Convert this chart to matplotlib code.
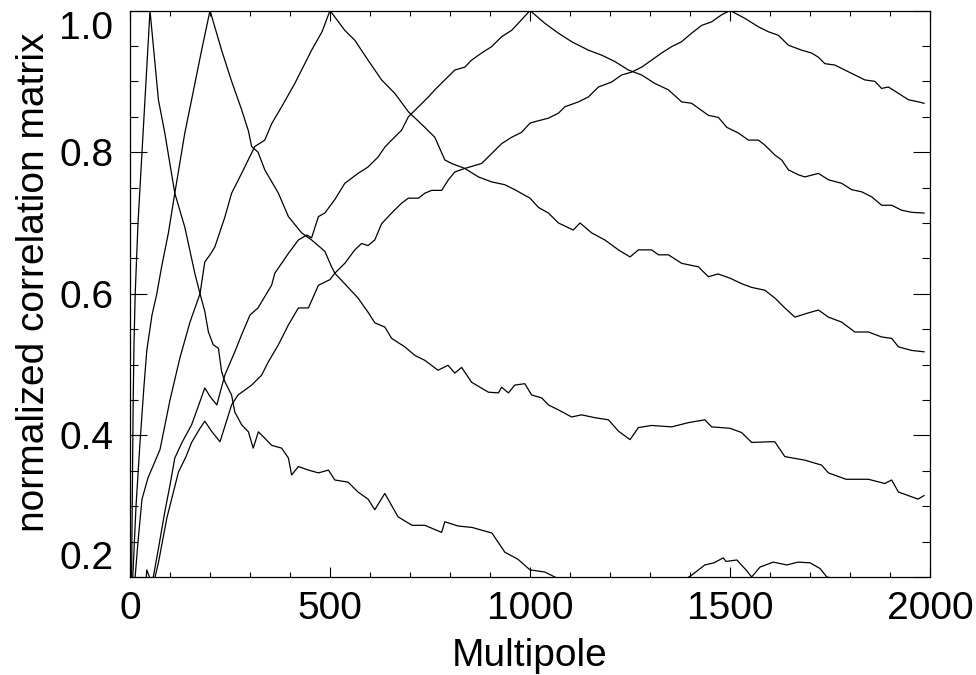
import matplotlib
matplotlib.use("Agg")
import matplotlib.pyplot as plt
from matplotlib.ticker import MultipleLocator

plt.rcParams['font.family'] = ['Liberation Sans', 'DejaVu Sans']

# curves: correlation with multipole 50, 200, 500, 1000, 1500
l_50 = [2, 4, 6, 8, 10, 13, 20, 30, 40, 50, 71, 87, 112, 137, 162, 175, 187, 196, 208, 221,
        229, 237, 254, 262, 279, 296, 308, 321, 337, 354, 379, 396, 404, 421, 446, 471, 496,
        512, 545, 570, 595, 612, 637, 670, 705, 737, 779, 787, 820, 855, 905, 937, 970, 1000,
        1037, 1062, 1100, 1150, 1200, 1250, 1300, 1337, 1370, 1405, 1437, 1460, 1483, 1490,
        1517, 1540, 1554, 1575, 1608, 1642, 1670, 1700, 1725, 1742, 1770, 1800, 1850, 1900,
        1950, 1985]
c_50 = [0.05, 0.2, 0.33, 0.45, 0.53, 0.6, 0.7, 0.8, 0.9, 1.0, 0.874, 0.827, 0.742, 0.694,
        0.629, 0.60, 0.575, 0.546, 0.528, 0.523, 0.49, 0.476, 0.457, 0.433, 0.415, 0.405,
        0.382, 0.405, 0.396, 0.386, 0.382, 0.368, 0.344, 0.356, 0.351, 0.347, 0.351, 0.337,
        0.334, 0.32, 0.31, 0.295, 0.318, 0.285, 0.273, 0.273, 0.263, 0.278, 0.272, 0.27,
        0.262, 0.235, 0.225, 0.21, 0.207, 0.20, 0.19, 0.185, 0.182, 0.188, 0.192, 0.199,
        0.19, 0.203, 0.217, 0.22, 0.227, 0.222, 0.224, 0.21, 0.200, 0.214, 0.221, 0.217,
        0.221, 0.22, 0.212, 0.200, 0.197, 0.19, 0.185, 0.18, 0.182, 0.178]

l_200 = [2, 7, 15, 25, 35, 42, 55, 67, 79, 96, 112, 137, 154, 179, 200, 229, 254, 279, 296,
         304, 320, 337, 371, 396, 429, 454, 487, 504, 512, 537, 570, 595, 612, 637, 654, 687,
         712, 737, 770, 795, 812, 829, 854, 896, 921, 929, 946, 962, 987, 1004, 1029, 1046,
         1071, 1104, 1129, 1162, 1196, 1221, 1250, 1271, 1304, 1354, 1396, 1437, 1454, 1500,
         1529, 1554, 1600, 1612, 1637, 1687, 1729, 1746, 1790, 1846, 1887, 1904, 1921, 1970,
         1985]
c_200 = [0.0, 0.2, 0.3, 0.39, 0.47, 0.52, 0.57, 0.60, 0.638, 0.686, 0.742, 0.827, 0.874,
         0.944, 1.0, 0.944, 0.90, 0.86, 0.83, 0.808, 0.80, 0.775, 0.742, 0.709, 0.686, 0.676,
         0.66, 0.638, 0.629, 0.614, 0.594, 0.574, 0.559, 0.553, 0.537, 0.525, 0.513, 0.506,
         0.492, 0.499, 0.488, 0.496, 0.475, 0.461, 0.46, 0.468, 0.46, 0.471, 0.473, 0.457,
         0.453, 0.443, 0.436, 0.426, 0.429, 0.425, 0.422, 0.406, 0.394, 0.411, 0.414, 0.412,
         0.418, 0.422, 0.412, 0.41, 0.404, 0.39, 0.391, 0.391, 0.37, 0.365, 0.358, 0.347,
         0.338, 0.338, 0.332, 0.337, 0.32, 0.31, 0.315]

l_500 = [2, 10, 20, 30, 45, 60, 75, 100, 125, 150, 175, 187, 200, 212, 237, 254, 279, 312,
         337, 354, 379, 412, 454, 480, 500, 537, 562, 595, 629, 662, 696, 737, 762, 787, 804,
         837, 871, 904, 937, 962, 1000, 1021, 1046, 1071, 1108, 1125, 1154, 1187, 1221, 1250,
         1271, 1304, 1321, 1346, 1379, 1421, 1446, 1470, 1500, 1530, 1554, 1587, 1612, 1637,
         1662, 1696, 1721, 1746, 1779, 1812, 1846, 1879, 1904, 1921, 1954, 1985]
c_500 = [0.0, 0.18, 0.25, 0.31, 0.34, 0.36, 0.38, 0.45, 0.51, 0.56, 0.60, 0.645, 0.655,
         0.666, 0.708, 0.742, 0.77, 0.808, 0.817, 0.84, 0.864, 0.897, 0.944, 0.97, 1.0, 0.972,
         0.958, 0.93, 0.902, 0.883, 0.857, 0.835, 0.821, 0.789, 0.784, 0.777, 0.765, 0.758,
         0.754, 0.747, 0.735, 0.722, 0.714, 0.70, 0.69, 0.70, 0.686, 0.676, 0.662, 0.652,
         0.662, 0.662, 0.655, 0.655, 0.643, 0.638, 0.624, 0.628, 0.622, 0.614, 0.609, 0.605,
         0.594, 0.58, 0.567, 0.573, 0.577, 0.567, 0.56, 0.546, 0.546, 0.539, 0.537, 0.525,
         0.52, 0.518]

l_1000 = [10, 30, 42, 55, 71, 87, 100, 112, 130, 154, 170, 187, 200, 217, 237, 262, 279, 300,
          320, 354, 362, 396, 421, 442, 454, 471, 487, 512, 537, 570, 595, 620, 637, 654, 679,
          696, 721, 746, 762, 787, 812, 837, 854, 879, 904, 929, 954, 979, 1000, 1037, 1071,
          1104, 1146, 1179, 1212, 1246, 1279, 1312, 1346, 1379, 1404, 1446, 1471, 1492, 1521,
          1546, 1571, 1587, 1612, 1629, 1646, 1671, 1687, 1721, 1746, 1779, 1804, 1829, 1854,
          1879, 1904, 1929, 1954, 1985]
c_1000 = [0.0, 0.12, 0.21, 0.19, 0.24, 0.292, 0.33, 0.368, 0.39, 0.415, 0.44, 0.467, 0.455,
          0.443, 0.485, 0.518, 0.542, 0.57, 0.58, 0.612, 0.629, 0.657, 0.676, 0.683, 0.679,
          0.709, 0.714, 0.733, 0.756, 0.77, 0.779, 0.793, 0.807, 0.817, 0.831, 0.85, 0.864,
          0.878, 0.888, 0.902, 0.916, 0.92, 0.93, 0.94, 0.949, 0.963, 0.972, 0.987, 1.0,
          0.982, 0.968, 0.956, 0.944, 0.937, 0.928, 0.916, 0.909, 0.897, 0.888, 0.871, 0.869,
          0.852, 0.849, 0.835, 0.827, 0.817, 0.817, 0.81, 0.796, 0.789, 0.775, 0.768, 0.765,
          0.77, 0.761, 0.756, 0.747, 0.744, 0.737, 0.725, 0.725, 0.718, 0.715, 0.714]

l_1500 = [10, 30, 50, 71, 92, 121, 140, 154, 175, 187, 205, 225, 254, 270, 304, 329, 346, 371,
          396, 421, 446, 471, 500, 512, 537, 562, 579, 595, 612, 629, 654, 679, 696, 721, 737,
          754, 779, 796, 812, 837, 879, 904, 929, 954, 979, 1000, 1012, 1046, 1071, 1087, 1121,
          1146, 1171, 1204, 1229, 1254, 1279, 1304, 1329, 1354, 1379, 1404, 1429, 1454, 1479,
          1500, 1537, 1571, 1596, 1621, 1646, 1679, 1704, 1721, 1737, 1762, 1787, 1812, 1837,
          1862, 1879, 1896, 1921, 1946, 1971, 1985]
c_1500 = [0.0, 0.08, 0.17, 0.22, 0.283, 0.348, 0.37, 0.39, 0.41, 0.42, 0.405, 0.391, 0.443,
          0.457, 0.471, 0.485, 0.504, 0.528, 0.556, 0.58, 0.58, 0.612, 0.62, 0.629, 0.643,
          0.662, 0.671, 0.668, 0.676, 0.699, 0.714, 0.728, 0.735, 0.735, 0.742, 0.746, 0.746,
          0.761, 0.772, 0.777, 0.784, 0.798, 0.812, 0.821, 0.828, 0.841, 0.843, 0.848, 0.855,
          0.864, 0.871, 0.878, 0.892, 0.899, 0.909, 0.913, 0.92, 0.93, 0.94, 0.949, 0.956,
          0.968, 0.979, 0.984, 0.994, 1.0, 0.989, 0.977, 0.970, 0.965, 0.951, 0.944, 0.94,
          0.934, 0.925, 0.923, 0.916, 0.909, 0.902, 0.90, 0.89, 0.892, 0.883, 0.874, 0.871,
          0.869]

curves = [(l_50, c_50), (l_200, c_200), (l_500, c_500), (l_1000, c_1000), (l_1500, c_1500)]

fig = plt.figure(figsize=(9.76, 6.75), dpi=100)
ax = fig.add_axes([0.1332, 0.1452, 0.8197, 0.8392])

for ls, cs in curves:
    ax.plot(ls, cs, color='black', lw=0.9)

ax.set_xlim(0, 2000)
ax.set_ylim(0.2, 1.0)
ax.xaxis.set_major_locator(MultipleLocator(500))
ax.xaxis.set_minor_locator(MultipleLocator(100))
ax.yaxis.set_minor_locator(MultipleLocator(0.05))
ax.set_yticks([0.2, 0.4, 0.6, 0.8, 1.0])
ax.set_yticklabels(['0.2', '0.4', '0.6', '0.8', '1.0'])

ax.tick_params(axis='x', which='major', direction='in', length=7.2, width=0.8,
               top=True, labelsize=28, pad=10)
ax.tick_params(axis='x', which='minor', direction='in', length=3.6, width=0.8, top=True)
ax.tick_params(axis='y', which='major', direction='in', length=12, width=0.8,
               right=True, labelsize=28, pad=12)
ax.tick_params(axis='y', which='minor', direction='in', length=6, width=0.8, right=True)

labs = ax.get_yticklabels()
labs[0].set_va('bottom')
labs[-1].set_va('top')

for s in ax.spines.values():
    s.set_linewidth(0.9)

ax.set_xlabel('Multipole', fontsize=28, labelpad=8)
ax.set_ylabel('normalized correlation matrix', fontsize=28)
ax.yaxis.set_label_coords(-0.098, 0.52)

fig.savefig('out.png', dpi=100)
